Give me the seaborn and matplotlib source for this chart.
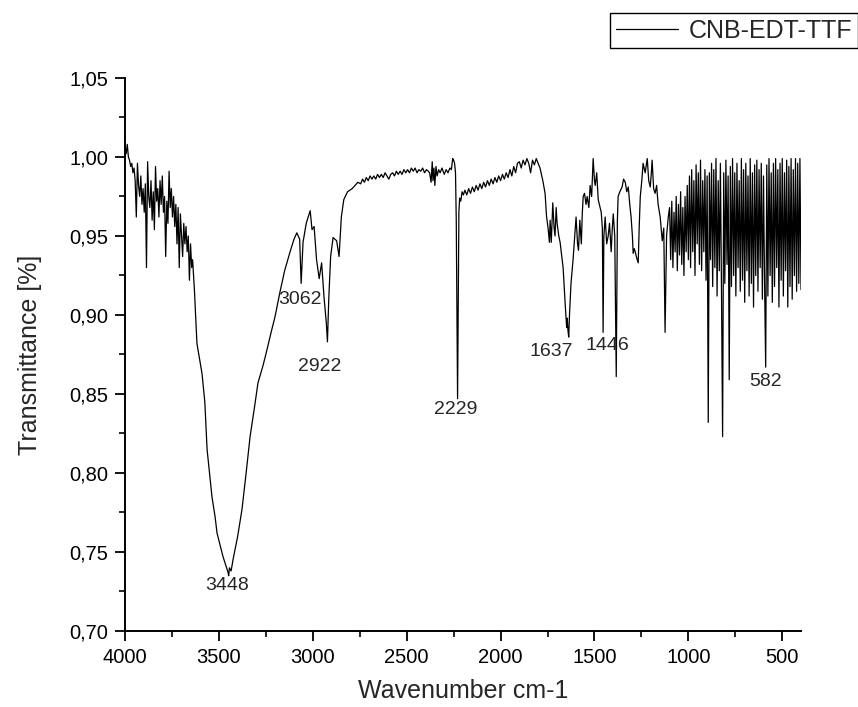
import numpy as np
import pandas as pd
import seaborn as sns
import matplotlib.pyplot as plt
from matplotlib.ticker import MultipleLocator, FuncFormatter

# Espectro IR
tr_ruido_oh = [1.006, 1.002, 1.008, 1.000, 0.998, 0.994, 0.996, 0.990, 0.993, 0.985,
               0.962, 0.996, 0.982, 0.975, 0.988, 0.970, 0.980, 0.965, 0.983, 0.930,
               0.997, 0.975, 0.968, 0.985, 0.960, 0.978, 0.954, 0.994, 0.972, 0.980,
               0.962, 0.985, 0.970, 0.988, 0.965, 0.975, 0.937, 0.972, 0.958, 0.991,
               0.968, 0.980, 0.962, 0.975, 0.956, 0.970, 0.945, 0.968, 0.930, 0.964,
               0.950, 0.937, 0.958, 0.945, 0.956, 0.940, 0.950, 0.922, 0.945, 0.930]

wn_oh = [3640, 3630, 3617, 3600, 3590, 3575, 3563, 3550, 3537, 3520,
         3510, 3495, 3478, 3462, 3451, 3448, 3444, 3435, 3425, 3400,
         3377, 3355, 3334, 3310, 3292, 3265, 3244, 3220, 3201, 3174,
         3150, 3121, 3100, 3085]
tr_oh = [0.935, 0.915, 0.882, 0.870, 0.863, 0.845, 0.815, 0.800, 0.785, 0.772,
         0.762, 0.755, 0.747, 0.741, 0.737, 0.735, 0.740, 0.738, 0.745, 0.760,
         0.777, 0.800, 0.823, 0.842, 0.857, 0.868, 0.878, 0.890, 0.899, 0.915,
         0.928, 0.940, 0.948, 0.952]

wn_ch = [3070, 3062, 3052, 3035, 3014, 3004, 2993, 2980, 2966, 2953,
         2940, 2928, 2922, 2915, 2905, 2892, 2873, 2860, 2848, 2835,
         2815, 2790, 2760]
tr_ch = [0.948, 0.920, 0.946, 0.958, 0.966, 0.954, 0.956, 0.935, 0.923, 0.933,
         0.911, 0.895, 0.883, 0.910, 0.937, 0.949, 0.947, 0.937, 0.962, 0.973,
         0.978, 0.980, 0.984]

tr_meseta = [0.983, 0.986, 0.984, 0.987, 0.985, 0.988, 0.986, 0.988, 0.986, 0.989,
             0.987, 0.989, 0.987, 0.990, 0.988, 0.986, 0.989, 0.990, 0.988, 0.991,
             0.989, 0.991, 0.989, 0.992, 0.990, 0.992, 0.990, 0.993, 0.991, 0.993,
             0.990, 0.992, 0.991, 0.993, 0.990, 0.992, 0.991]

wn_cn = [2378, 2370, 2364, 2360, 2355, 2350, 2344, 2338, 2330, 2322,
         2312, 2300, 2290, 2280, 2270, 2262, 2255, 2250, 2245, 2240,
         2236, 2232, 2229, 2226, 2222, 2218, 2212, 2205, 2198]
tr_cn = [0.990, 0.984, 0.997, 0.985, 0.993, 0.982, 0.994, 0.988, 0.992, 0.990,
         0.993, 0.989, 0.992, 0.990, 0.993, 0.992, 0.999, 0.998, 0.996, 0.990,
         0.960, 0.900, 0.847, 0.900, 0.965, 0.974, 0.972, 0.978, 0.976]

tr_subida = [0.979, 0.976, 0.980, 0.977, 0.981, 0.978, 0.982, 0.979, 0.983, 0.980,
             0.984, 0.981, 0.985, 0.982, 0.986, 0.983, 0.987, 0.984, 0.988, 0.985,
             0.989, 0.986, 0.990, 0.987, 0.992, 0.988, 0.994, 0.990, 0.996, 0.997,
             0.993, 0.998, 0.995, 0.999, 0.996, 0.990, 0.998, 0.995, 0.999, 0.996]

wn_co = [1790, 1775, 1763, 1755, 1747, 1740, 1736, 1730, 1722, 1715,
         1710, 1704, 1699, 1690, 1683, 1667, 1655, 1648, 1645, 1641,
         1637, 1633, 1625, 1614, 1605, 1598, 1590, 1585, 1578, 1570,
         1565, 1560, 1553]
tr_co = [0.993, 0.985, 0.977, 0.962, 0.955, 0.946, 0.960, 0.946, 0.971, 0.955,
         0.950, 0.968, 0.958, 0.950, 0.946, 0.930, 0.905, 0.892, 0.898, 0.890,
         0.886, 0.900, 0.920, 0.935, 0.950, 0.962, 0.945, 0.941, 0.960, 0.945,
         0.964, 0.975, 0.977]

wn_fp = [1545, 1539, 1530, 1523, 1515, 1507, 1500, 1496, 1488, 1480,
         1470, 1464, 1458, 1454, 1450, 1443, 1435, 1427, 1420, 1411,
         1405, 1400, 1392, 1384, 1378, 1374, 1365, 1353, 1345, 1336,
         1328, 1320, 1312, 1305, 1298, 1294, 1288, 1283, 1275, 1267,
         1262, 1256, 1248, 1241, 1230, 1219, 1211, 1203, 1197, 1193,
         1185, 1177, 1169, 1161, 1150, 1139, 1131, 1124, 1116, 1107]
tr_fp = [0.970, 0.975, 0.968, 0.982, 0.975, 0.999, 0.985, 0.982, 0.990, 0.973,
         0.968, 0.965, 0.955, 0.889, 0.950, 0.962, 0.945, 0.950, 0.958, 0.940,
         0.955, 0.964, 0.950, 0.861, 0.960, 0.975, 0.978, 0.981, 0.986, 0.984,
         0.978, 0.981, 0.970, 0.962, 0.950, 0.939, 0.942, 0.940, 0.936, 0.933,
         0.955, 0.975, 0.985, 0.996, 0.990, 0.999, 0.985, 0.981, 0.990, 0.998,
         0.980, 0.977, 0.982, 0.970, 0.962, 0.947, 0.955, 0.889, 0.950, 0.962]

tr_ruido_bajo = [0.968, 0.935, 0.972, 0.930, 0.965, 0.940, 0.975, 0.928, 0.970, 0.938,
                 0.978, 0.932, 0.968, 0.925, 0.975, 0.940, 0.982, 0.935, 0.988, 0.930,
                 0.992, 0.940, 0.985, 0.925, 0.995, 0.945, 0.990, 0.932, 0.998, 0.928,
                 0.985, 0.940, 0.992, 0.922, 0.988, 0.832, 0.990, 0.935, 0.996, 0.918,
                 0.992, 0.930, 0.999, 0.912, 0.985, 0.928, 0.996, 0.915, 0.823, 0.990,
                 0.920, 0.998, 0.932, 0.988, 0.859, 0.994, 0.918, 0.999, 0.925, 0.990,
                 0.912, 0.996, 0.930, 0.985, 0.915, 0.999, 0.922, 0.992, 0.908, 0.996,
                 0.928, 0.988, 0.912, 0.999, 0.920, 0.990, 0.905, 0.995, 0.925, 0.998,
                 0.915, 0.992, 0.930, 0.996, 0.910, 0.988, 0.920, 0.867, 0.995, 0.912,
                 0.999, 0.925, 0.990, 0.908, 0.996, 0.918, 0.999, 0.930, 0.992, 0.905,
                 0.996, 0.922, 0.999, 0.912, 0.990, 0.928, 0.998, 0.905, 0.994, 0.918,
                 0.999, 0.910, 0.992, 0.925, 0.999, 0.915, 0.996, 0.920, 0.999, 0.916]

# picos etiquetados: (texto, x, y)
picos_txt = ["3448", "3062", "2922", "2229", "1637", "1446", "582"]
picos_x = [3455, 3068, 2961, 2237, 1731, 1432, 591]
picos_y = [0.729, 0.9095, 0.8677, 0.840, 0.8766, 0.881, 0.8582]

wn = np.concatenate([
    np.linspace(4000, 3645, len(tr_ruido_oh)), wn_oh, wn_ch,
    np.linspace(2745, 2385, len(tr_meseta)), wn_cn,
    np.linspace(2190, 1800, len(tr_subida)), wn_co, wn_fp,
    np.linspace(1100, 400, len(tr_ruido_bajo))])
tr = np.concatenate([tr_ruido_oh, tr_oh, tr_ch, tr_meseta, tr_cn,
                     tr_subida, tr_co, tr_fp, tr_ruido_bajo])
df = pd.DataFrame({'wn': wn, 'tr': tr})

sns.set_style("ticks")
plt.rcParams['font.family'] = ['Liberation Sans', 'DejaVu Sans']

fig = plt.figure(figsize=(8.58, 7.07), dpi=100)
ax = fig.add_axes([0.1457, 0.1075, 0.7879, 0.7822])

sns.lineplot(data=df, x='wn', y='tr', ax=ax, sort=False, estimator=None,
             color='black', linewidth=0.9, label='CNB-EDT-TTF')

ax.set_xlim(4000, 400)
ax.set_ylim(0.70, 1.05)
ax.xaxis.set_major_locator(MultipleLocator(500))
ax.xaxis.set_minor_locator(MultipleLocator(250))
ax.yaxis.set_major_locator(MultipleLocator(0.05))
ax.yaxis.set_minor_locator(MultipleLocator(0.025))
ax.yaxis.set_major_formatter(FuncFormatter(lambda v, p: f"{v:.2f}".replace('.', ',')))

for s in ['top', 'right']:
    ax.spines[s].set_visible(False)
for s in ['left', 'bottom']:
    ax.spines[s].set_linewidth(1.4)
    ax.spines[s].set_color('black')
ax.tick_params(which='major', direction='out', length=7, width=1.3, labelsize=14.5,
               colors='black', pad=5)
ax.tick_params(which='minor', direction='out', length=4, width=1.2, colors='black')

ax.set_xlabel("Wavenumber cm-1", fontsize=18, labelpad=9)
ax.set_ylabel("Transmittance [%]", fontsize=18, labelpad=20)

for t, x, y in zip(picos_txt, picos_x, picos_y):
    ax.text(x, y, t, ha='center', va='center', fontsize=14)

leg = ax.legend(loc='upper right', bbox_to_anchor=(0.9995, 0.981),
                bbox_transform=fig.transFigure, fontsize=18, frameon=True,
                fancybox=False, edgecolor='black', framealpha=1,
                handlelength=2.5, handletextpad=0.4, borderpad=0.22,
                borderaxespad=0)
leg.get_frame().set_linewidth(1.0)

fig.savefig("out.png", dpi=100)
